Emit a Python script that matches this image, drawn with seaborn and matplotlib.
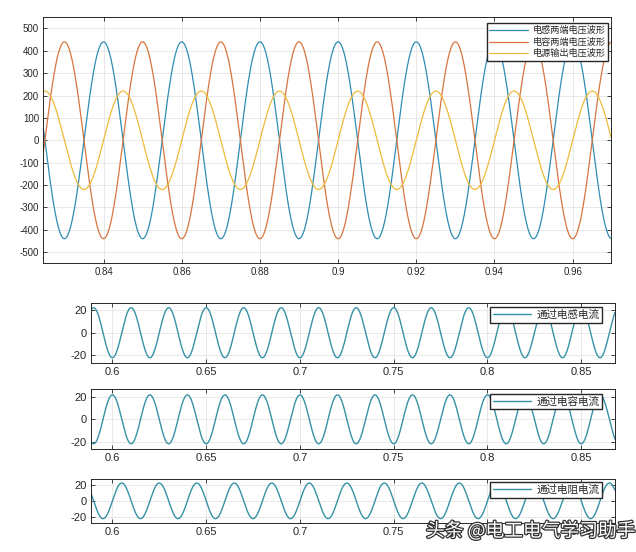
import numpy as np
import pandas as pd
import seaborn as sns
import matplotlib.pyplot as plt
import matplotlib.patheffects as pe

# signal parameters (50 Hz sinusoids)
freq_hz = 50
top_labels = ['电感两端电压波形', '电容两端电压波形', '电源输出电压波形']
top_amplitudes = [440, 440, 220]
top_phases_deg = [90, -90, 0]
top_colors = ['#2f8cb4', '#d8743f', '#eebb3c']
top_xlim = (0.8246, 0.9698)
top_xticks = [0.84, 0.86, 0.88, 0.9, 0.92, 0.94, 0.96]
top_yticks = [-500, -400, -300, -200, -100, 0, 100, 200, 300, 400, 500]

bottom_labels = ['通过电感电流', '通过电容电流', '通过电阻电流']
bottom_amplitudes = [22.5, 22, 22]
bottom_phases_deg = [-90, 90, 0]
bottom_color = '#3592a6'
bottom_xlim = (0.5886, 0.868)
bottom_xticks = [0.6, 0.65, 0.7, 0.75, 0.8, 0.85]
bottom_yticks = [-20, 0, 20]

sns.set_style('ticks')
plt.rcParams['font.family'] = ['Liberation Sans', 'Noto Sans CJK SC', 'DejaVu Sans']
plt.rcParams['axes.unicode_minus'] = False


def style_axes(ax, fs):
    ax.tick_params(direction='in', top=True, right=True, length=3, width=0.6,
                   labelsize=fs, colors='#262626', pad=3)
    ax.grid(True, color='#e4e4e4', linewidth=0.6)
    for s in ax.spines.values():
        s.set_color('#262626')
        s.set_linewidth(0.7)


fig = plt.figure(figsize=(6.36, 5.52), dpi=100)

# top: voltage waveforms
ax = fig.add_axes([0.0681, 0.523, 0.8926, 0.4457])
t = np.linspace(0.82, 0.97, 3000)
for lab, amp, ph, col in zip(top_labels, top_amplitudes, top_phases_deg, top_colors):
    df = pd.DataFrame({'t': t, 'v': amp * np.sin(2 * np.pi * freq_hz * t + np.deg2rad(ph))})
    sns.lineplot(data=df, x='t', y='v', ax=ax, color=col, linewidth=0.9, label=lab)
ax.set_xlim(*top_xlim)
ax.set_ylim(-550, 550)
ax.set_xticks(top_xticks)
ax.set_xticklabels([f'{v:g}' for v in top_xticks])
ax.set_yticks(top_yticks)
ax.set_xlabel('')
ax.set_ylabel('')
style_axes(ax, 7)
ax.legend(loc='upper right', bbox_to_anchor=(0.995, 0.975), fontsize=6.6,
          frameon=True, fancybox=False, edgecolor='#262626', framealpha=1,
          handlelength=4.2, handletextpad=0.5, borderpad=0.3, labelspacing=0.25,
          borderaxespad=0)

# bottom: currents
positions = [[0.1431, 0.3429, 0.8239, 0.1087],
             [0.1431, 0.1860, 0.8239, 0.1087],
             [0.1431, 0.0531, 0.8239, 0.0792]]
tb = np.linspace(0.585, 0.87, 3000)
for pos, lab, amp, ph in zip(positions, bottom_labels, bottom_amplitudes, bottom_phases_deg):
    axb = fig.add_axes(pos)
    df = pd.DataFrame({'t': tb, 'v': amp * np.sin(2 * np.pi * freq_hz * tb + np.deg2rad(ph))})
    sns.lineplot(data=df, x='t', y='v', ax=axb, color=bottom_color, linewidth=1.0, label=lab)
    axb.set_xlim(*bottom_xlim)
    axb.set_ylim(-27, 27)
    axb.set_xticks(bottom_xticks)
    axb.set_xticklabels([f'{v:g}' for v in bottom_xticks])
    axb.set_yticks(bottom_yticks)
    axb.set_xlabel('')
    axb.set_ylabel('')
    style_axes(axb, 8)
    axb.legend(loc='upper right', bbox_to_anchor=(0.975, 0.93), fontsize=7.6,
               frameon=True, fancybox=False, edgecolor='#262626', framealpha=1,
               handlelength=3.6, handletextpad=0.5, borderpad=0.25,
               borderaxespad=0)

# watermark
fig.text(426 / 636, 1 - 531 / 552, '头条 @电工电气学习助手', fontsize=13.5,
         family=['Noto Sans CJK SC'], color='white', ha='left', va='center',
         path_effects=[pe.withStroke(linewidth=1.8, foreground='#333333')])

plt.savefig('out.png', dpi=100)
